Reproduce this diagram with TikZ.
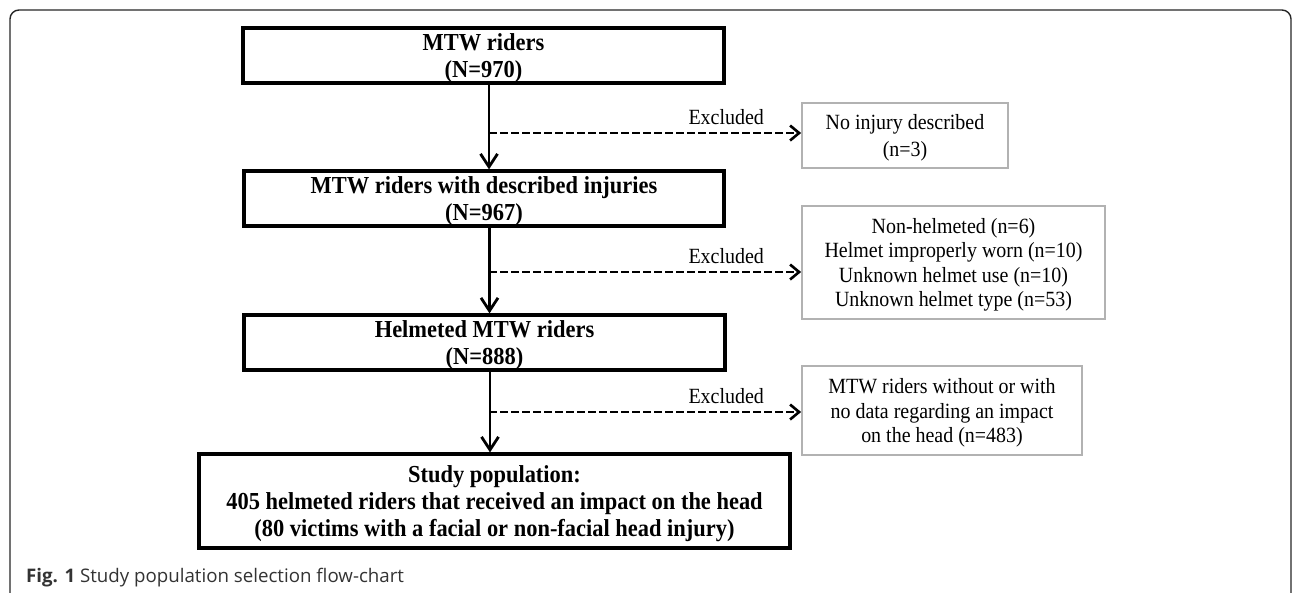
\documentclass[tikz,border=0pt]{standalone}
\usepackage{fontspec}
\setmainfont[FakeStretch=0.92]{Liberation Serif}
\setsansfont{Open Sans}
\usetikzlibrary{arrows.meta,positioning}
\tikzset{>={Straight Barb[length=13pt,width=17pt]}}

\begin{document}
\begin{tikzpicture}[x=1pt,y=-1pt,
                    BOX/.style = {draw, line width=3.2pt, align=center,
                              inner sep=0pt, minimum height=55pt, text depth=0pt,
                              font=\bfseries\fontsize{24.4}{27.5}\selectfont},
                    EXC/.style = {draw=black!30, line width=1.8pt, align=center,
                              inner sep=0pt, text depth=0pt,
                              font=\fontsize{21.7}{24.5}\selectfont},
                    ARR/.style = {->, line width=2.8pt},
                    DSH/.style = {->, line width=2.6pt, dash pattern=on 7.5pt off 3.5pt,
                              >={Straight Barb[length=9pt,width=15pt]}},
                    LBL/.style = {font=\fontsize{21.7}{24}\selectfont,
                              inner sep=0pt, above=7pt}
               ]
               \useasboundingbox (0,0) rectangle (1292,592);
               % frame, open at the bottom
               \draw[line width=1.4pt, black!85, rounded corners=9pt]
                    (10,600) -- (10,10) -- (1291,10) -- (1291,600);

               \def\X{5.5}  % arrow offset from box centre
               % main column
               \node[BOX, minimum width=481pt] (riders)   at (483.5,55.5)  {MTW riders\\(N=970)};
               \node[BOX, minimum width=480pt] (injured)  at (484,198.5)   {MTW riders with described injuries\\(N=967)};
               \node[BOX, minimum width=481pt] (helmeted) at (484.5,342.5) {Helmeted MTW riders\\(N=888)};
               \node[BOX, minimum width=591pt, minimum height=94pt,
                     font=\bfseries\fontsize{24.4}{27}\selectfont] (study) at (494.5,501)
                    {Study population:\\405 helmeted riders that received an impact on the head\\(80 victims with a facial or non-facial head injury)};

               % excluded
               \node[EXC, minimum width=206pt, minimum height=65pt,
                     font=\fontsize{21.7}{27}\selectfont] (noinj) at (905,135.5)
                    {No injury described\\(n=3)};
               \node[EXC, minimum width=303pt, minimum height=113pt] (nohelm)  at (953.5,262.5)
                    {Non-helmeted (n=6)\\Helmet improperly worn (n=10)\\Unknown helmet use (n=10)\\Unknown helmet type (n=53)};
               \node[EXC, minimum width=280pt, minimum height=89pt]  (noimpact) at (942,410.5)
                    {MTW riders without or with\\no data regarding an impact\\on the head (n=483)};

               \draw[ARR] ([xshift=\X pt]riders.south)   -- ([xshift=\X pt]riders.south |- injured.north);
               \draw[ARR] ([xshift=\X pt]injured.south)  -- ([xshift=\X pt]injured.south |- helmeted.north);
               \draw[ARR] ([xshift=\X pt]helmeted.south) -- ([xshift=\X pt]helmeted.south |- study.north);

               \coordinate (d1) at (489,133);
               \coordinate (d2) at (489,272);
               \coordinate (d3) at (489,412);
               \draw[DSH] (d1) -- node[LBL, pos=0.76] {Excluded} (d1 -| noinj.west);
               \draw[DSH] (d2) -- node[LBL, pos=0.76] {Excluded} (d2 -| nohelm.west);
               \draw[DSH] (d3) -- node[LBL, pos=0.76] {Excluded} (d3 -| noimpact.west);

               \node[anchor=west, inner sep=0pt, text=black!80,
                     font=\sffamily\fontsize{18.7}{22}\selectfont] (caption) at (26,578)
                    {\textbf{Fig. 1} Study population selection flow-chart};
\end{tikzpicture}
\end{document}
